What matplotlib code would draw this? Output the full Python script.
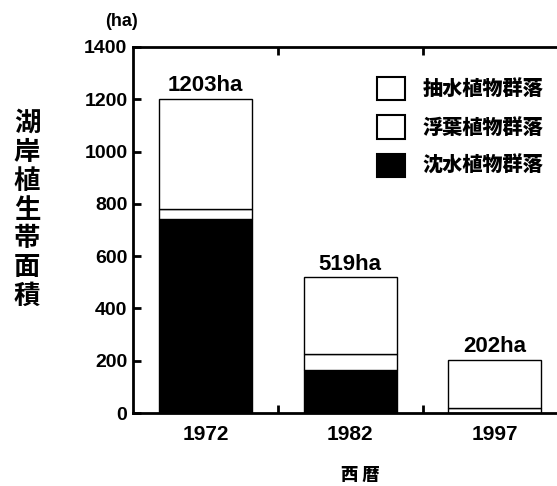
import matplotlib
matplotlib.use("Agg")
import matplotlib.pyplot as plt
from matplotlib.patches import Patch
import numpy as np

years = ["1972", "1982", "1997"]
submerged = [742, 165, 0]      # 沈水植物群落
floating = [38, 61, 18]        # 浮葉植物群落
emergent = [423, 293, 184]     # 抽水植物群落
total_labels = ["1203ha", "519ha", "202ha"]
yticks = [0, 200, 400, 600, 800, 1000, 1200, 1400]

CJK = ["Noto Sans CJK JP", "DejaVu Sans"]
LAT = ["Liberation Sans", "DejaVu Sans"]

W, H = 557, 486
fig = plt.figure(figsize=(W / 100, H / 100), dpi=100)
ax = fig.add_axes([133 / W, 1 - 413 / H, 1 - 133 / W, (413 - 47) / H])

x = np.arange(len(years))
width = 0.644
sub = np.array(submerged)
flo = np.array(floating)
emr = np.array(emergent)
ax.bar(x, sub, width, color="black", edgecolor="black", linewidth=1)
ax.bar(x, flo, width, bottom=sub, color="white", edgecolor="black", linewidth=1)
ax.bar(x, emr, width, bottom=sub + flo, color="white", edgecolor="black", linewidth=1)

tot = sub + flo + emr
for xi, t, lab in zip(x, tot, total_labels):
    ax.annotate(lab, (xi, t), xytext=(0, 2), textcoords="offset points",
                ha="center", va="bottom", fontsize=16, fontweight="bold",
                family=LAT)

ax.set_xlim(-0.502, 2.43)
ax.set_ylim(0, 1400)
ax.set_yticks(yticks)
ax.set_yticklabels([str(v) for v in yticks], fontsize=14, fontweight="bold", family=LAT)
ax.set_xticks(x)
ax.set_xticklabels(years, fontsize=15, fontweight="bold", family=LAT)
ax.set_xticks([0.5, 1.5], minor=True)
ax.tick_params(axis="x", which="major", length=0, pad=9)
ax.tick_params(axis="x", which="minor", direction="in", length=6, width=2, top=True, bottom=True)
ax.tick_params(axis="y", which="major", direction="in", length=6, width=2, pad=4)

for s in ["left", "bottom", "top"]:
    ax.spines[s].set_linewidth(2)
ax.spines["right"].set_visible(False)

handles = [Patch(facecolor="white", edgecolor="black", linewidth=1.5, label="抽水植物群落"),
           Patch(facecolor="white", edgecolor="black", linewidth=1.5, label="浮葉植物群落"),
           Patch(facecolor="black", edgecolor="black", linewidth=1.5, label="沈水植物群落")]
leg = ax.legend(handles=handles, loc="upper left",
                bbox_to_anchor=(377 / W, 1 - 77 / H), bbox_transform=fig.transFigure,
                frameon=False, borderpad=0, borderaxespad=0,
                handlelength=1.4, handleheight=1.4, handletextpad=0.85,
                labelspacing=0.75,
                prop={"family": CJK, "weight": "black", "size": 14.5})

fig.text(122 / W, 1 - 22 / H, "(ha)", ha="center", va="center",
         fontsize=13, fontweight="bold", family=LAT)
fig.text(360 / W, 1 - 475 / H, "西 暦", ha="center", va="center",
         fontsize=12.5, fontweight="black", family=CJK)
fig.text(27 / W, 1 - 210 / H, "\n".join("湖岸植生帯面積"), ha="center", va="center",
         fontsize=19, fontweight="bold", family=CJK, linespacing=1.09)

fig.savefig("out.png", dpi=100)
